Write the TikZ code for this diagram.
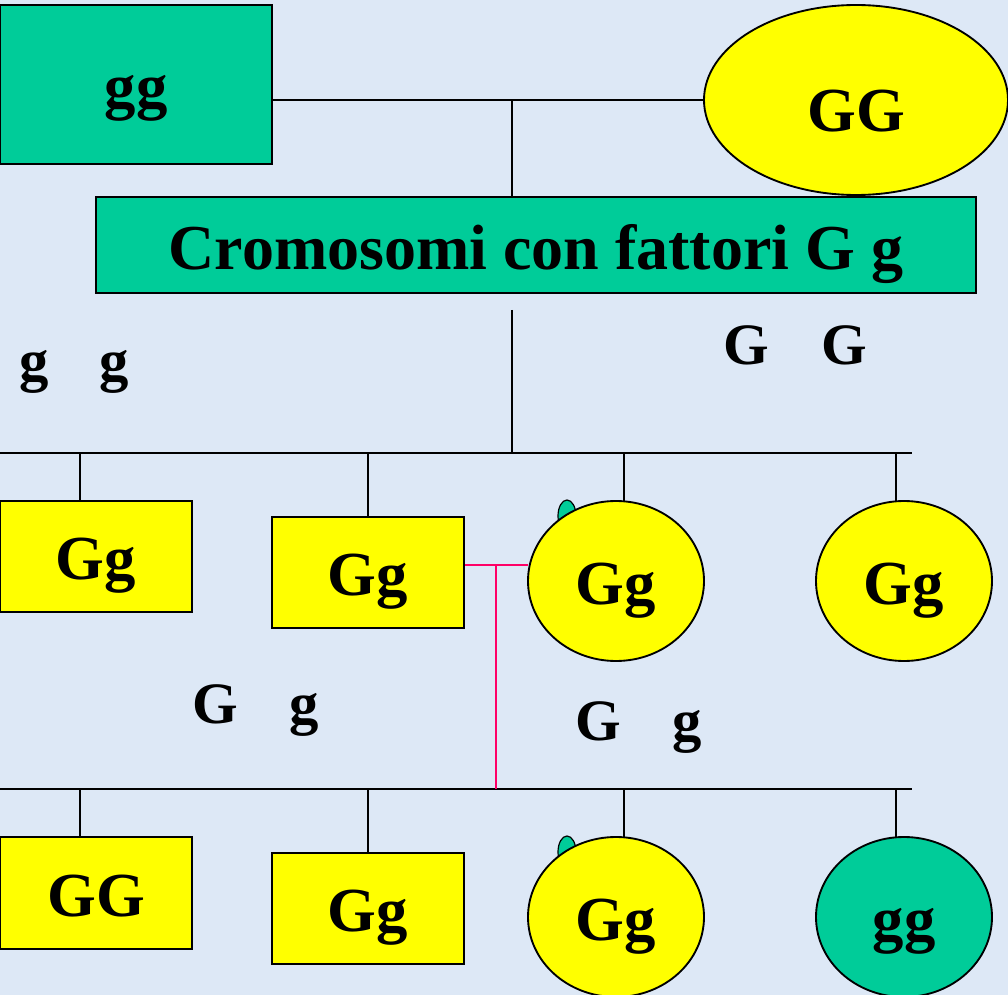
\documentclass[tikz,border=0pt]{standalone}
\usepackage{fontspec}
\setmainfont{Liberation Serif}
\usetikzlibrary{shapes.geometric}
\definecolor{gr}{RGB}{0,204,153}
\definecolor{ye}{RGB}{255,255,0}
\definecolor{bgc}{RGB}{221,232,246}
\definecolor{pk}{RGB}{255,0,102}
\pgfdeclarelayer{bgl}
\pgfdeclarelayer{lin}
\pgfsetlayers{bgl,lin,main}
\begin{document}
\begin{tikzpicture}[x=0.75pt,y=-0.75pt,
 lbl/.style={font=\bfseries\fontsize{47}{50}\selectfont, text height=42.3pt, text depth=7.8pt, inner sep=0pt, outer sep=0pt, draw=black},
 rbox/.style={lbl, rectangle, line width=1.8pt},
 oval/.style={lbl, ellipse, line width=1.4pt},
 sz/.style 2 args={minimum width={#1*0.75pt}, minimum height={#2*0.75pt}},
 conn/.style={line width=1.2pt, black},
 pinkline/.style={line width=1.3pt, pk},
 gtxt/.style={font=\bfseries\fontsize{44}{46}\selectfont, inner sep=0pt, anchor=base west},
 bud/.style={ellipse, draw=black, line width=0.9pt, fill=gr, minimum width=13.5pt, minimum height=24pt, inner sep=0pt},
]
\begin{pgfonlayer}{bgl}
\fill[bgc] (0,0) rectangle (1008,995);
\end{pgfonlayer}
\useasboundingbox (0,0) rectangle (1008,995);

% parents
\node[rbox, fill=gr, sz={272}{159}] (P1) at (136,84.5) {gg};
\node[oval, fill=ye, sz={304}{190}] (P2) at (856,100) {};
\node[font=\bfseries\fontsize{47}{50}\selectfont, inner sep=0pt, anchor=base] (P2t) at (856,132) {GG};
\node[rbox, fill=gr, sz={880}{96}, font=\bfseries\fontsize{48}{50}\selectfont, text height=43pt, text depth=5.5pt] (C) at (536,245) {Cromosomi con fattori G g};

% free letters
\node[gtxt] (t1) at (19,380) {g\hspace{38pt}g};
\node[gtxt] (t2) at (723,364) {G\hspace{39.5pt}G};
\node[gtxt] (t3) at (192,723) {G\hspace{38.5pt}g};
\node[gtxt] (t4) at (575,740) {G\hspace{38.5pt}g};

% row 2
\node[rbox, fill=ye, sz={192}{111}] (A1) at (96,556.5) {Gg};
\node[rbox, fill=ye, sz={192}{111}] (A2) at (368,572.5) {Gg};
\node[oval, fill=ye, sz={176}{160}] (A3) at (616,581) {Gg};
\node[oval, fill=ye, sz={176}{160}] (A4) at (904,581) {Gg};

% row 3
\node[rbox, fill=ye, sz={192}{112}] (B1) at (96,893) {GG};
\node[rbox, fill=ye, sz={192}{111}] (B2) at (368,908.5) {Gg};
\node[oval, fill=ye, sz={176}{160}] (B3) at (616,917) {Gg};
\node[oval, fill=gr, sz={176}{160}] (B4) at (904,917) {gg};

\begin{pgfonlayer}{lin}
\node[bud] (u1) at (567,516) {};
\node[bud] (u2) at (567,852) {};

\coordinate (J1) at (512,100);
\draw[conn] (P1.east |- P2.west) -- (P2.west);
\draw[conn] (J1) -- (J1 |- C.north);

\coordinate (V1) at (512,310);
\coordinate (H1) at (0,453);
\coordinate (H1e) at (912,453);
\draw[conn] (V1) -- (V1 |- H1);
\draw[conn] (H1) -- (H1e);
\draw[conn] ([xshift=-12pt]A1.north) -- ([xshift=-12pt]A1.north |- H1);
\draw[conn] (A2.north) -- (A2.north |- H1);
\draw[conn] ([xshift=6pt,yshift=-2pt]A3.north) -- ([xshift=6pt]A3.north |- H1);
\draw[conn] ([xshift=-6pt,yshift=-2pt]A4.north) -- ([xshift=-6pt]A4.north |- H1);

\coordinate (H2) at (0,789);
\coordinate (H2e) at (912,789);
\draw[conn] (H2) -- (H2e);
\draw[conn] ([xshift=-12pt]B1.north) -- ([xshift=-12pt]B1.north |- H2);
\draw[conn] (B2.north) -- (B2.north |- H2);
\draw[conn] ([xshift=6pt,yshift=-2pt]B3.north) -- ([xshift=6pt]B3.north |- H2);
\draw[conn] ([xshift=-6pt,yshift=-2pt]B4.north) -- ([xshift=-6pt]B4.north |- H2);

\coordinate (K) at (496,565);
\draw[pinkline] (A2.east |- K) -- (A3.west |- K);
\draw[pinkline] (K) -- (K |- H2);
\end{pgfonlayer}
\end{tikzpicture}
\end{document}
